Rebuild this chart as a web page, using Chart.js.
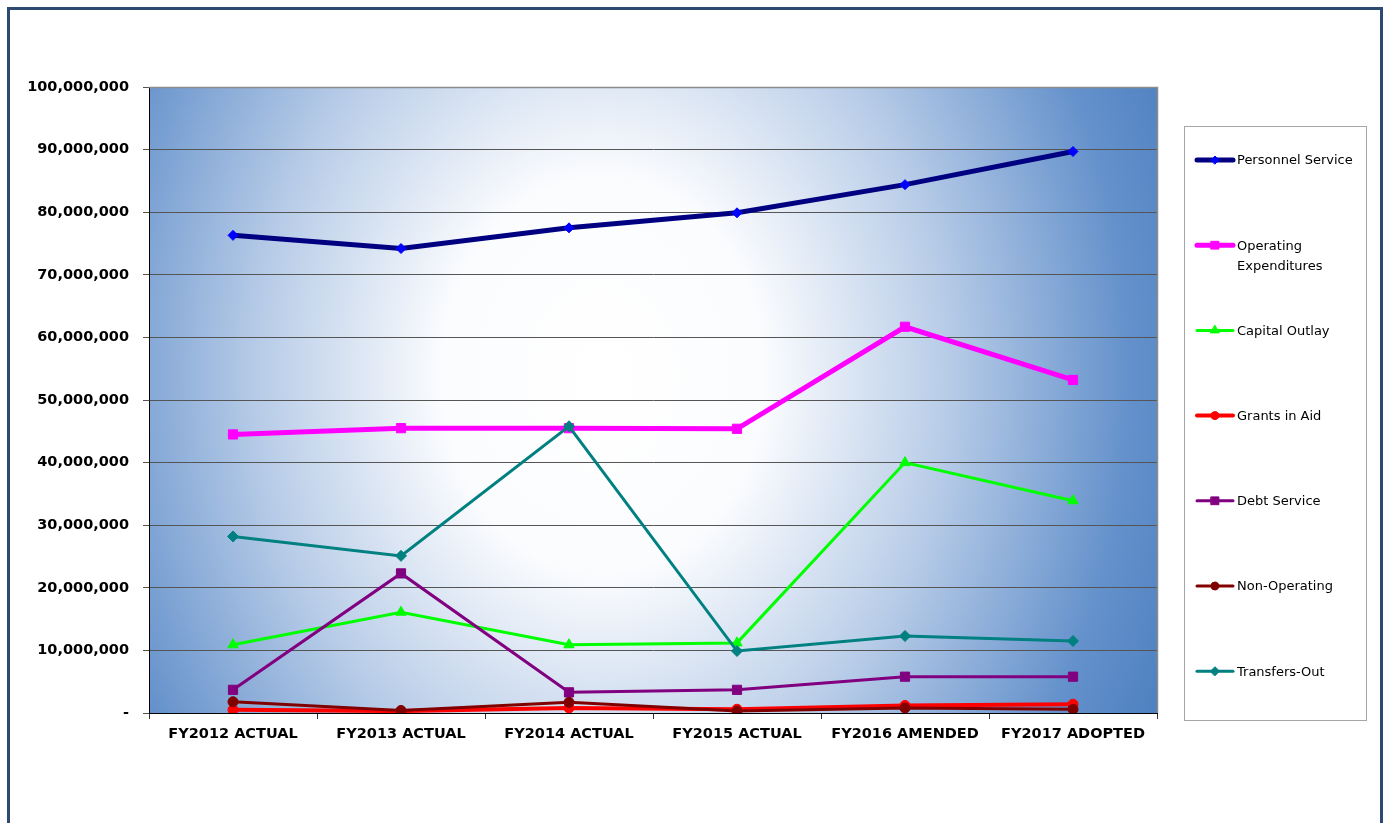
<!DOCTYPE html>
<html>
<head>
<meta charset="utf-8">
<title>Expenditures by Category</title>
<script src="https://cdn.jsdelivr.net/npm/chart.js@4/dist/chart.umd.min.js"></script>
<style>
  html, body { margin: 0; padding: 0; background: #fff; }
  #frame {
    position: absolute; left: 7px; top: 7px; width: 1376px; height: 840px;
    border: 3px solid #2c4a72; box-sizing: border-box;
  }
  #wrap { position: absolute; left: 0; top: 0; width: 1385px; height: 823px; }
</style>
</head>
<body>
<div id="frame"></div>
<div id="wrap"><canvas id="chart"></canvas></div>
<script>
const categories = ['FY2012 ACTUAL', 'FY2013 ACTUAL', 'FY2014 ACTUAL', 'FY2015 ACTUAL', 'FY2016 AMENDED', 'FY2017 ADOPTED'];

const personnelService      = [76300000, 74200000, 77500000, 79900000, 84400000, 89700000];
const operatingExpenditures = [44500000, 45500000, 45500000, 45400000, 61700000, 53200000];
const capitalOutlay         = [10900000, 16100000, 10900000, 11200000, 40000000, 33900000];
const grantsInAid           = [500000, 300000, 800000, 600000, 1200000, 1400000];
const debtService           = [3700000, 22300000, 3300000, 3700000, 5800000, 5800000];
const nonOperating          = [1800000, 400000, 1700000, 300000, 800000, 600000];
const transfersOut          = [28200000, 25100000, 45800000, 9900000, 12300000, 11500000];

const yMax = 100000000;
const yStep = 10000000;

Chart.defaults.font.family = '"DejaVu Sans", Verdana, sans-serif';

function series(label, data, line, fill, style, radius, width) {
  return {
    label: label,
    data: data,
    borderColor: line,
    backgroundColor: fill,
    pointBackgroundColor: fill,
    pointBorderColor: fill,
    pointStyle: style,
    pointRadius: radius,
    pointHoverRadius: radius,
    pointBorderWidth: 1,
    borderWidth: width,
    tension: 0
  };
}

const datasets = [
  series('Personnel Service', personnelService, '#000080', '#0000ff', 'rectRot', 5, 5),
  series('Operating Expenditures', operatingExpenditures, '#ff00ff', '#ff00ff', 'rect', 6.5, 5),
  series('Capital Outlay', capitalOutlay, '#00ff00', '#00ff00', 'triangle', 6, 3),
  series('Grants in Aid', grantsInAid, '#ff0000', '#ff0000', 'circle', 5, 4),
  series('Debt Service', debtService, '#800080', '#800080', 'rect', 6.5, 3),
  series('Non-Operating', nonOperating, '#800000', '#800000', 'circle', 5, 3),
  series('Transfers-Out', transfersOut, '#008080', '#008080', 'rectRot', 5.5, 3)
];
// later series sit on top
datasets.forEach((d, i) => { d.order = datasets.length - i; });

// soft glow behind the plot area
const plotBackground = {
  id: 'plotBackground',
  beforeDraw(chart) {
    const { ctx, chartArea: a } = chart;
    const cx = a.left + (a.right - a.left) * 0.45;
    const cy = a.top + (a.bottom - a.top) * 0.46;
    const rx = 620, ry = 760;
    ctx.save();
    ctx.beginPath();
    ctx.rect(a.left, a.top, a.right - a.left, a.bottom - a.top);
    ctx.clip();
    ctx.translate(cx, cy);
    ctx.scale(rx / ry, 1);
    const g = ctx.createRadialGradient(0, 0, 0, 0, 0, ry);
    g.addColorStop(0, '#ffffff');
    g.addColorStop(0.26, '#fbfcfe');
    g.addColorStop(0.55, 'rgb(185,205,232)');
    g.addColorStop(0.85, 'rgb(100,145,203)');
    g.addColorStop(1, 'rgb(78,128,192)');
    ctx.fillStyle = g;
    ctx.fillRect(-ry * 2, -ry * 2, ry * 4, ry * 4);
    ctx.restore();
  },
  beforeDatasetsDraw(chart) {
    const { ctx, chartArea: a } = chart;
    ctx.save();
    ctx.strokeStyle = '#8c8c8c';
    ctx.lineWidth = 1.5;
    ctx.beginPath();
    ctx.moveTo(a.left, a.top + 0.5);
    ctx.lineTo(a.right + 0.5, a.top + 0.5);
    ctx.lineTo(a.right + 0.5, a.bottom);
    ctx.stroke();
    ctx.restore();
  }
};

// legend in its own box on the right
const sideLegend = {
  id: 'sideLegend',
  afterDraw(chart) {
    const ctx = chart.ctx;
    const box = { x: 1184.5, y: 126.5, w: 182, h: 594 };
    ctx.save();
    ctx.fillStyle = '#ffffff';
    ctx.fillRect(box.x, box.y, box.w, box.h);
    ctx.strokeStyle = '#a6a6a6';
    ctx.lineWidth = 1;
    ctx.strokeRect(box.x, box.y, box.w, box.h);

    ctx.font = '13px "DejaVu Sans", Verdana, sans-serif';
    ctx.textBaseline = 'middle';
    ctx.textAlign = 'left';
    const textX = 1237;
    const maxW = 126;
    chart.data.datasets.forEach((ds, i) => {
      const y = 160 + 85.2 * i;
      ctx.strokeStyle = ds.borderColor;
      ctx.lineWidth = ds.borderWidth;
      ctx.lineCap = 'round';
      ctx.beginPath();
      ctx.moveTo(1197, y);
      ctx.lineTo(1233, y);
      ctx.stroke();
      ctx.fillStyle = ds.pointBackgroundColor;
      ctx.strokeStyle = ds.pointBorderColor;
      ctx.lineWidth = 1;
      Chart.helpers.drawPoint(ctx, {
        pointStyle: ds.pointStyle,
        radius: Math.max(4, ds.pointRadius - 1),
        rotation: 0,
        borderWidth: 1
      }, 1215, y);

      // wrap long names onto a second line
      const words = ds.label.split(' ');
      const lines = [];
      let cur = '';
      words.forEach(w => {
        const test = cur ? cur + ' ' + w : w;
        if (ctx.measureText(test).width > maxW && cur) {
          lines.push(cur);
          cur = w;
        } else {
          cur = test;
        }
      });
      lines.push(cur);
      ctx.fillStyle = '#000000';
      lines.forEach((ln, k) => ctx.fillText(ln, textX, y + 1 + k * 20));
    });
    ctx.restore();
  }
};

new Chart(document.getElementById('chart'), {
  type: 'line',
  data: { labels: categories, datasets: datasets },
  plugins: [plotBackground, sideLegend],
  options: {
    responsive: true,
    maintainAspectRatio: false,
    animation: false,
    layout: { padding: { left: 8, right: 228, top: 87, bottom: 70 } },
    plugins: {
      legend: { display: false },
      tooltip: { enabled: false }
    },
    scales: {
      x: {
        offset: true,
        afterFit(scale) { scale.height = 40; },
        grid: {
          offset: true,
          drawOnChartArea: false,
          drawTicks: true,
          tickLength: 6,
          color: '#333333'
        },
        border: { color: '#000000', width: 1 },
        ticks: {
          color: '#000000',
          padding: 7,
          maxRotation: 0,
          autoSkip: false,
          font: { size: 14.5, weight: 'bold' }
        }
      },
      y: {
        min: 0,
        max: yMax,
        afterFit(scale) { scale.width = 141; },
        grid: {
          color: '#555555',
          lineWidth: 1,
          tickLength: 6
        },
        border: { color: '#000000', width: 1 },
        ticks: {
          stepSize: yStep,
          color: '#000000',
          padding: 14,
          font: { size: 14.5, weight: 'bold' },
          callback: v => v === 0 ? '-' : v.toLocaleString('en-US')
        }
      }
    }
  }
});
</script>
</body>
</html>
